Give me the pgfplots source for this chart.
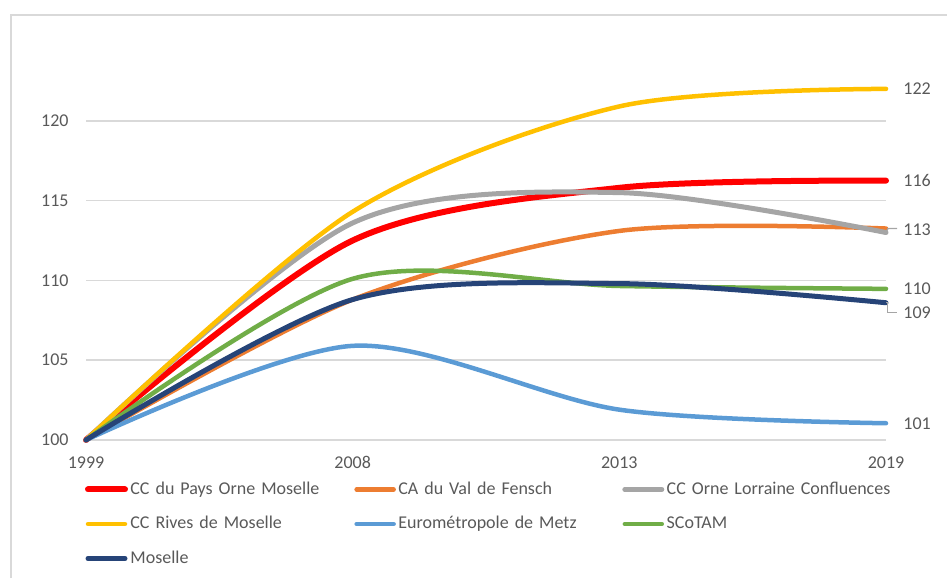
\documentclass[border=0pt]{standalone}
\usepackage{pgfplots}
\pgfplotsset{compat=1.18}
\usepackage{fontspec}
\setmainfont{Carlito}
\definecolor{cRed}{HTML}{FF0000}
\definecolor{cOrange}{HTML}{ED7D31}
\definecolor{cGray}{HTML}{A5A5A5}
\definecolor{cYellow}{HTML}{FFC000}
\definecolor{cLBlue}{HTML}{5B9BD5}
\definecolor{cGreen}{HTML}{70AD47}
\definecolor{cNavy}{HTML}{264478}
\definecolor{gridc}{HTML}{D9D9D9}
\definecolor{txt}{HTML}{595959}
\begin{document}
\fontsize{9}{11}\selectfont
\begin{tikzpicture}[x=1pt,y=1pt]
\useasboundingbox (0,0) rectangle (473.5,289);
\draw[color=gridc, line width=0.75pt] (5.5,0) -- (5.5,281.5) -- (473.5,281.5);
\begin{axis}[
  at={(43pt,69pt)}, anchor=south west, scale only axis,
  width=400pt, height=199.5pt,
  xmin=0, xmax=3, ymin=100, ymax=125,
  xtick={0,1,2,3}, xticklabels={1999,2008,2013,2019},
  ytick={100,105,110,115,120},
  axis x line*=bottom, axis y line*=left,
  y axis line style={draw=none},
  x axis line style={color=gridc, line width=0.75pt, -},
  ymajorgrids, grid style={color=gridc, line width=0.75pt},
  major tick length=0pt, tick style={draw=none},
  /pgf/number format/assume math mode=true,
  ticklabel style={font=\fontsize{9}{11}\selectfont, text=txt},
  yticklabel style={inner sep=0pt, anchor=east, xshift=-8.5pt},
  xticklabel style={inner sep=0pt, anchor=north, yshift=-8pt},
  clip=false,
  legend columns=3,
  legend cell align=left,
  legend style={at={(axis description cs:0,0)}, anchor=north west,
    xshift=-0.5pt, yshift=-20.5pt, draw=none, fill=none, inner sep=0pt, outer sep=0pt,
    row sep=8.75pt, column sep=0pt, font=\fontsize{9}{11}\selectfont, text=txt,
    nodes={inner sep=0pt, text height=6.5pt, text depth=2pt, text width=112pt},
    /tikz/every odd column/.append style={column sep=1.2pt}},
  legend image code/.code={\draw[#1] (0pt,0pt) -- (18.5pt,0pt);},
  every axis plot/.append style={smooth, line cap=round},
]
\addplot[color=cRed, line width=3pt] coordinates {(0,100) (1,112.5) (2,115.8) (3,116.25)};
\addlegendentry{CC du Pays Orne Moselle}
\addplot[color=cOrange, line width=2.25pt] coordinates {(0,100) (1,108.8) (2,113.1) (3,113.25)};
\addlegendentry{CA du Val de Fensch}
\addplot[color=cGray, line width=2.5pt] coordinates {(0,100) (1,113.6) (2,115.5) (3,113.0)};
\addlegendentry{CC Orne Lorraine Confluences}
\addplot[color=cYellow, line width=2.25pt] coordinates {(0,100) (1,114.3) (2,120.9) (3,122.0)};
\addlegendentry{CC Rives de Moselle}
\addplot[color=cLBlue, line width=2.25pt] coordinates {(0,100) (1,105.9) (2,101.9) (3,101.05)};
\addlegendentry{Eurométropole de Metz}
\addplot[color=cGreen, line width=2.25pt] coordinates {(0,100) (1,110.1) (2,109.65) (3,109.47)};
\addlegendentry{SCoTAM}
\addplot[color=cNavy, line width=2.5pt] coordinates {(0,100) (1,108.8) (2,109.8) (3,108.6)};
\addlegendentry{Moselle}
\draw[color=cGray, line width=0.6pt] (axis cs:3,113.0) -- ++(1pt,2pt) -- ++(4.5pt,0pt);
\draw[color=cGray, line width=0.6pt] (axis cs:3,108.6) -- ++(0.75pt,0pt) -- ++(0pt,-5pt) -- ++(4.5pt,0pt);
\node[anchor=west, inner sep=0pt, text=txt, xshift=8.5pt] at (axis cs:3,122.0) {122};
\node[anchor=west, inner sep=0pt, text=txt, xshift=8.5pt] at (axis cs:3,116.25) {116};
\node[anchor=west, inner sep=0pt, text=txt, xshift=8.5pt] at (axis cs:3,113.17) {113};
\node[anchor=west, inner sep=0pt, text=txt, xshift=8.5pt] at (axis cs:3,109.47) {110};
\node[anchor=west, inner sep=0pt, text=txt, xshift=8.5pt] at (axis cs:3,107.99) {109};
\node[anchor=west, inner sep=0pt, text=txt, xshift=8.5pt] at (axis cs:3,101.05) {101};
\end{axis}
\end{tikzpicture}
\end{document}
